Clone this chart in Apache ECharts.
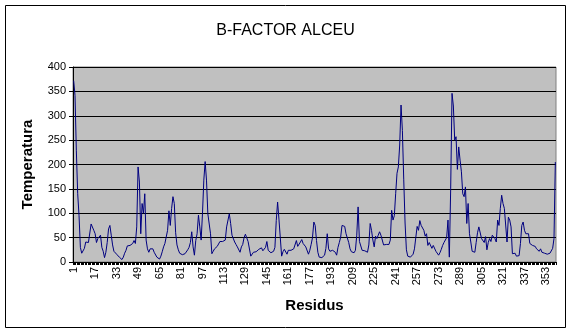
<!DOCTYPE html>
<html><head><meta charset="utf-8">
<script src="https://cdn.jsdelivr.net/npm/echarts@6/dist/echarts.min.js"></script>
<style>html,body{margin:0;padding:0;background:#fff}#c{width:571px;height:334px}</style>
</head><body><div id="c"></div>
<script>
const titleText = "B-FACTOR ALCEU";
const xTitle = "Residus";
const yTitle = "Temperatura";
const yMin = 0, yMax = 400, yStep = 50;
const residueCount = 360;
const labelEvery = 16;

const bf001_060 = [372,342,228,140,95,30,18,22,28,41,38,40,42,78,80,65,58,40,48,44,55,30,22,9,20,40,68,75,55,35,22,18,16,14,10,7,5,10,18,24,33,32,34,30,38,44,38,72,195,164,58,120,100,140,45,27,20,27,24,27];
const bf061_120 = [20,17,10,6,6,12,21,31,38,41,65,105,75,110,134,120,60,35,25,18,16,15,16,17,20,25,30,40,62,31,14,44,58,96,72,45,99,168,206,168,99,103,58,17,22,27,29,32,36,42,43,42,44,45,72,75,99,79,55,55];
const bf121_180 = [41,36,31,33,20,31,36,50,57,55,42,38,12,12,20,22,21,25,26,24,29,23,19,30,42,24,20,19,20,22,30,85,123,88,50,12,21,26,24,16,24,22,24,24,27,30,44,32,30,41,46,38,36,31,33,16,24,36,50,82];
const bf181_240 = [75,44,20,10,7,9,10,14,28,58,27,22,20,24,22,20,14,30,40,51,75,75,73,58,62,40,27,21,18,19,24,55,113,42,38,24,20,23,22,20,35,79,65,45,31,53,48,55,62,55,52,35,37,36,37,36,45,106,86,95];
const bf241_300 = [140,182,195,240,322,270,170,80,25,12,9,10,13,16,27,50,73,65,85,75,72,65,53,58,34,40,44,28,34,32,22,18,14,19,26,34,40,44,50,86,10,150,346,320,250,257,190,236,209,185,140,134,154,79,120,58,41,22,18,20];
const bf301_360 = [40,60,72,68,48,45,40,52,25,40,48,42,55,52,48,41,86,75,110,137,120,110,106,41,92,86,72,17,21,18,12,14,13,38,75,82,65,58,57,58,38,36,34,35,32,27,28,22,27,20,18,18,16,16,15,18,17,28,48,205];

const bfactor = [].concat(bf001_060, bf061_120, bf121_180, bf181_240, bf241_300, bf301_360);
const residues = [];
for (let i = 1; i <= residueCount; i++) residues.push(String(i));

const FONT = "Liberation Sans, Arial, sans-serif";
const chart = echarts.init(document.getElementById('c'), null, {renderer:'canvas'});
chart.setOption({
  animation:false,
  backgroundColor:'#ffffff',
  title:{text:titleText,left:'center',top:18,textStyle:{fontFamily:FONT,fontSize:16,fontWeight:'normal',color:'#000'}},
  graphic:[{type:'rect',shape:{x:5.5,y:5.5,width:560,height:322},style:{fill:null,stroke:'#000',lineWidth:1},silent:true}],
  grid:{left:73,top:67,width:483,height:195,show:true,backgroundColor:'#C0C0C0',borderColor:'#808080',borderWidth:1},
  xAxis:{type:'category',data:residues,boundaryGap:true,
    name:xTitle,nameLocation:'middle',nameGap:36,
    nameTextStyle:{fontFamily:FONT,fontSize:15,fontWeight:'bold',color:'#000'},
    axisLine:{lineStyle:{color:'#000',width:1}},
    axisTick:{show:true,interval:0,length:3,lineStyle:{color:'#000'}},
    axisLabel:{interval:labelEvery-1,rotate:90,fontFamily:FONT,fontSize:11,color:'#000',margin:5},
    splitLine:{show:false}},
  yAxis:{type:'value',min:yMin,max:yMax,interval:yStep,
    name:yTitle,nameLocation:'middle',nameGap:38,nameRotate:90,
    nameTextStyle:{fontFamily:FONT,fontSize:15,fontWeight:'bold',color:'#000'},
    axisLine:{show:true,lineStyle:{color:'#000',width:1}},
    axisTick:{show:true,length:4,lineStyle:{color:'#000'}},
    axisLabel:{fontFamily:FONT,fontSize:11,color:'#000',margin:7},
    splitLine:{show:true,lineStyle:{color:'#000',width:1}}},
  series:[{type:'line',data:bfactor,symbol:'none',lineStyle:{color:'#000080',width:1},itemStyle:{color:'#000080'}}]
});
</script></body></html>
